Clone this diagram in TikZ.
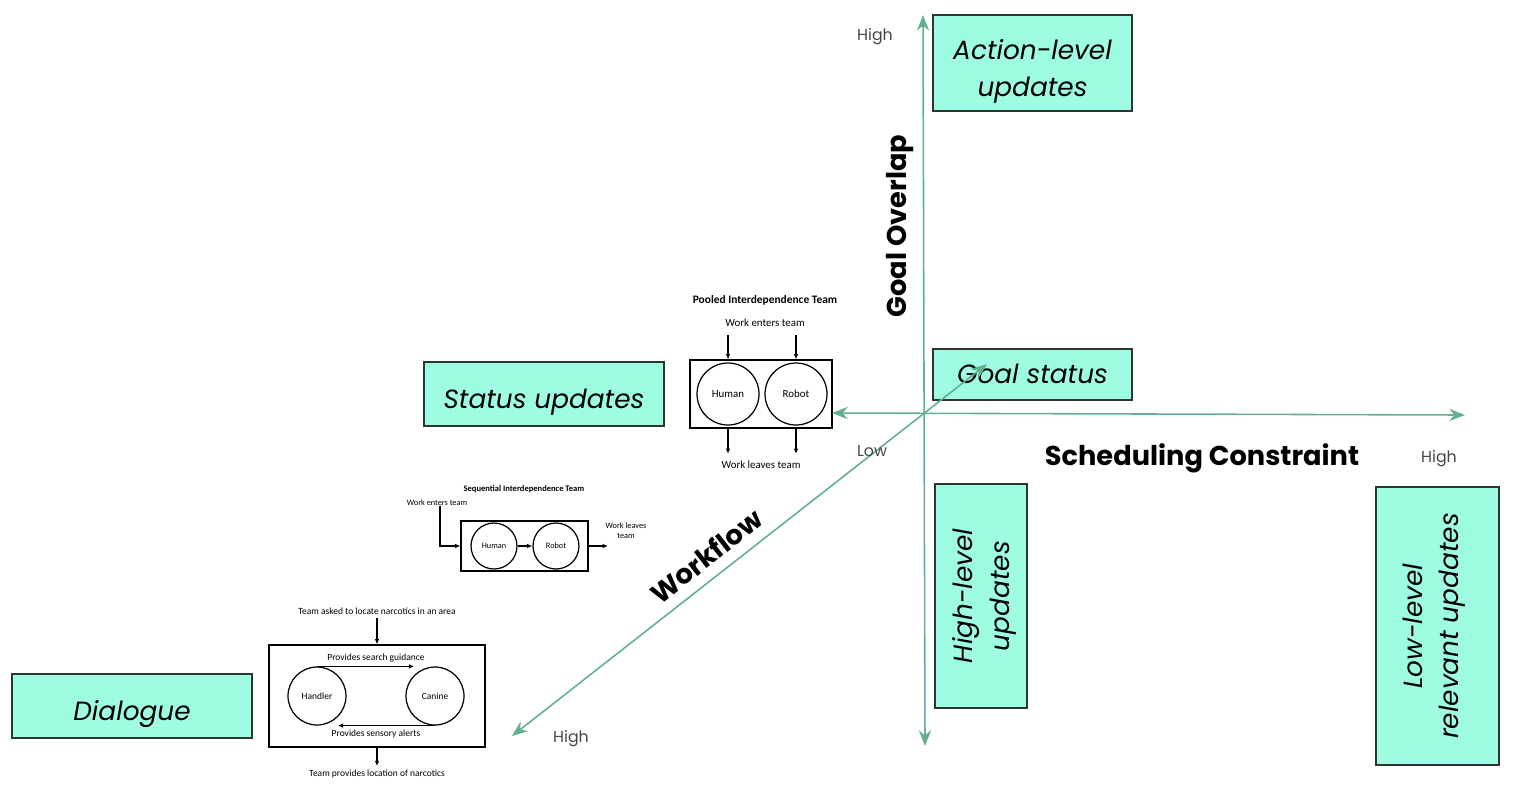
\documentclass[tikz,border=0pt]{standalone}
\usepackage{fontspec}
\setmainfont{Poppins}
\newfontfamily\calib{Carlito}
\usetikzlibrary{arrows.meta,positioning}
\definecolor{mint}{RGB}{157,252,226}
\definecolor{axisgreen}{RGB}{98,176,142}
\definecolor{boxline}{RGB}{45,55,50}
\definecolor{lowgray}{RGB}{70,70,70}
% text of a quadrant box, lowered by #1
\newcommand{\boxtext}[2]{\raisebox{#1}[\height][\depth]{\begin{tabular}{@{}c@{}}#2\end{tabular}}}

\begin{document}
\begin{tikzpicture}[x=0.02cm,y=-0.02cm,
  tag/.style={draw=boxline,line width=1.1pt,fill=mint,inner sep=0pt,font=\fontsize{15}{21}\selectfont\itshape},
  axis/.style={draw=axisgreen,line width=0.9pt,{Stealth[length=9pt,width=7pt,inset=3pt]}-{Stealth[length=9pt,width=7pt,inset=3pt]}},
  level/.style={font=\fontsize{9}{11}\selectfont,text=lowgray},
  dimlabel/.style={font=\fontsize{15.5}{18}\selectfont\bfseries},
  team/.style={draw,line width=0.7pt,inner sep=0pt},
  member/.style={draw,circle,line width=0.7pt,inner sep=0pt},
  note/.style={font=\calib\fontsize{6.2}{7.5}\selectfont,inner sep=0pt},
  notehead/.style={font=\calib\bfseries\fontsize{6.5}{7.8}\selectfont,inner sep=0pt},
  tiny/.style={font=\calib\fontsize{4.7}{5.6}\selectfont,inner sep=0pt},
  tinyhead/.style={font=\calib\bfseries\fontsize{4.85}{5.8}\selectfont,inner sep=0pt},
  small/.style={font=\calib\fontsize{5.4}{6.5}\selectfont,inner sep=0pt},
  flow/.style={line width=0.7pt,-{Latex[length=3pt,width=2.6pt]}}]
\useasboundingbox (0,0) rectangle (1522,796);

% boxes of the quadrants
\node[tag,minimum width=3.98cm,minimum height=1.92cm] (act) at (1032.5,63) {\boxtext{-4.5pt}{Action-level\\updates}};
\node[tag,minimum width=3.98cm,minimum height=1.02cm] (gst) at (1032.5,374.5) {\boxtext{-1pt}{Goal status}};
\node[tag,minimum width=4.8cm,minimum height=1.28cm] (sts) at (544,394) {\boxtext{-4pt}{Status updates}};
\node[tag,minimum width=4.8cm,minimum height=1.28cm] (dlg) at (132,706) {\boxtext{-4pt}{Dialogue}};
\node[tag,rotate=90,minimum width=4.48cm,minimum height=1.84cm] (hlv) at (981,596) {\boxtext{-1.7pt}{High-level\\updates}};
\node[tag,rotate=90,minimum width=5.56cm,minimum height=2.46cm] (llv) at (1437.5,626) {\boxtext{2.5pt}{Low-level\\relevant updates}};

% pooled team
\node[notehead] (ptitle) at (765,300) {Pooled Interdependence Team};
\node[note] (pin) at (765,323) {Work enters team};
\node[team,minimum width=2.84cm,minimum height=1.36cm] (pbox) at (761,394) {};
\node[member,note,minimum size=1.24cm] (ph) at (728,394) {Human};
\node[member,note,minimum size=1.24cm] (pr) at (796,394) {Robot};
\node[note] (pout) at (761,465) {Work leaves team};
\draw[flow,shorten <=4.5pt] (ph |- pin.south) -- (ph |- pbox.north);
\draw[flow,shorten <=4.5pt] (pr |- pin.south) -- (pr |- pbox.north);
\draw[flow,shorten >=4pt] (ph |- pbox.south) -- (ph |- pout.north);
\draw[flow,shorten >=4pt] (pr |- pbox.south) -- (pr |- pout.north);

% sequential team
\node[tinyhead] (stitle) at (524,489) {Sequential Interdependence Team};
\node[tiny] (sin) at (437,503) {Work enters team};
\node[team,minimum width=2.54cm,minimum height=1cm] (sbox) at (524.5,546) {};
\node[member,tiny,minimum size=0.92cm] (sh) at (494,546) {Human};
\node[member,tiny,minimum size=0.92cm] (sr) at (556,546) {Robot};
\node[tiny,align=center] (sout) at (626,531) {Work leaves\\team};
\coordinate (send) at (608,546);
\draw[flow] ([xshift=1.7pt]sin.south) |- (sbox.west);
\draw[flow] (sh) -- (sr);
\draw[flow] (sbox.east) -- (send);

% handler and canine
\node[small] (hin) at (377,611) {Team asked to locate narcotics in an area};
\node[team,minimum width=4.32cm,minimum height=2.04cm] (hbox) at (377,696) {};
\node[member,small,minimum size=1.16cm] (hnd) at (317,696) {Handler};
\node[member,small,minimum size=1.16cm] (cnn) at (435,696) {Canine};
\node[small] (hsend) at (376,658) {Provides search guidance};
\node[small] (hback) at (376,734) {Provides sensory alerts};
\node[small] (hout) at (377,774) {Team provides location of narcotics};
\draw[flow,shorten <=2pt] (hin.south) -- (hbox.north);
\draw[flow] (hnd.north) -- (hnd.north -| cnn.135);
\draw[flow] (cnn.south) -- (cnn.south -| hnd.45);
\draw[flow,shorten >=2pt] (hbox.south) -- (hout.north);

% axes
\coordinate (gTop) at (923,15);
\coordinate (gBot) at (925,746);
\coordinate (sL) at (832,413);
\coordinate (sR) at (1465,415);
\coordinate (wHi) at (512,736);
\coordinate (wLo) at (987,364);
\draw[axis] (gBot) -- (gTop);
\draw[axis] (sL) -- (sR);
\draw[axis] (wHi) -- (wLo);

% axis labels
\node[level] (hiG) at (875,37) {High};
\node[level] (loS) at (872,451) {Low};
\node[level] (hiS) at (1439,459) {High};
\node[level] (hiW) at (571,739) {High};
\node[dimlabel,rotate=90] (gov) at (900,226) {Goal Overlap};
\node[dimlabel] (sch) at (1202,458) {Scheduling Constraint};
\node[dimlabel,rotate=38] (wfl) at (706,556) {Workflow};
\end{tikzpicture}
\end{document}
